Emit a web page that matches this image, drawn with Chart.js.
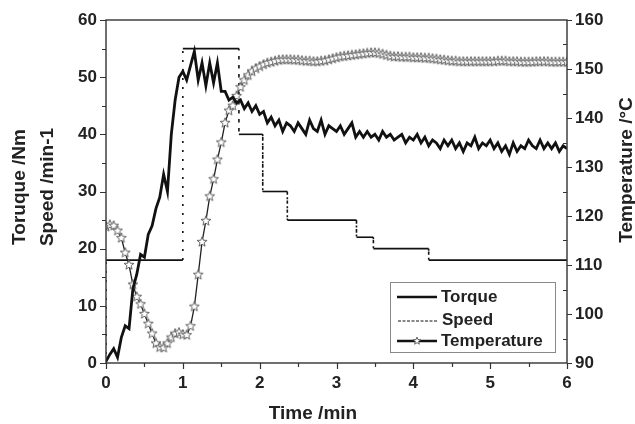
<!DOCTYPE html>
<html>
<head>
<meta charset="utf-8">
<script src="https://cdn.jsdelivr.net/npm/chart.js@4/dist/chart.umd.min.js"></script>
<style>
  html, body { margin: 0; padding: 0; background: #fff; }
</style>
</head>
<body>
<canvas id="chart" width="635" height="424"></canvas>
<script>
// thời gian (min), lấy mẫu 0.05 min
const times = [
  0, 0.05, 0.1, 0.15, 0.2, 0.25, 0.3, 0.35, 0.4, 0.45,
  0.5, 0.55, 0.6, 0.65, 0.7, 0.75, 0.8, 0.85, 0.9, 0.95,
  1.0, 1.05, 1.1, 1.15, 1.2, 1.25, 1.3, 1.35, 1.4, 1.45,
  1.5, 1.55, 1.6, 1.65, 1.7, 1.75, 1.8, 1.85, 1.9, 1.95,
  2.0, 2.05, 2.1, 2.15, 2.2, 2.25, 2.3, 2.35, 2.4, 2.45,
  2.5, 2.55, 2.6, 2.65, 2.7, 2.75, 2.8, 2.85, 2.9, 2.95,
  3.0, 3.05, 3.1, 3.15, 3.2, 3.25, 3.3, 3.35, 3.4, 3.45,
  3.5, 3.55, 3.6, 3.65, 3.7, 3.75, 3.8, 3.85, 3.9, 3.95,
  4.0, 4.05, 4.1, 4.15, 4.2, 4.25, 4.3, 4.35, 4.4, 4.45,
  4.5, 4.55, 4.6, 4.65, 4.7, 4.75, 4.8, 4.85, 4.9, 4.95,
  5.0, 5.05, 5.1, 5.15, 5.2, 5.25, 5.3, 5.35, 5.4, 5.45,
  5.5, 5.55, 5.6, 5.65, 5.7, 5.75, 5.8, 5.85, 5.9, 5.95,
  6.0
];

// Torque (Nm)
const torque = [
  0.3, 1.5, 2.5, 1.0, 4.5, 6.5, 6.0, 13, 15.5, 19,
  18.5, 22.5, 24, 27, 29, 33, 30, 40, 46, 50,
  51, 49.5, 52, 54.5, 49.5, 52.5, 48.5, 52.5, 49, 52.5,
  47.5, 47.5, 46, 46.5, 45.5, 46, 44.5, 45.5, 44, 45,
  43.5, 44, 42, 43, 41.5, 42.5, 40.5, 42, 41.5, 40.5,
  42, 41, 40, 42.5, 41, 40.5, 42.5, 40, 41.5, 41,
  40.5, 41.5, 40, 41, 42, 39.5, 40.5, 39.5, 40.5, 39.5,
  40, 39, 40.5, 39.5, 40, 39, 39.5, 40, 38.5, 39.5,
  39, 40, 38.5, 39.5, 38, 39, 38.5, 37.5, 39, 38,
  39, 37.5, 38.5, 37, 38.5, 38, 39.5, 37.5, 38.5, 38,
  39, 37.5, 38.5, 37, 38, 36.5, 38.5, 37, 38, 37.5,
  39, 38, 37.5, 39, 37.5, 38.5, 37.5, 38.5, 37, 38,
  37.5
];

// Temperature (°C)
const temperature = [
  117.8, 118.2, 118, 117, 115.5, 112.5, 110, 106, 103.5, 102,
  100, 98, 96, 94, 93.2, 93.1, 94, 95.2, 96, 96.2,
  95.8, 95.7, 97.5, 101.5, 108, 114.7, 119, 124, 127.5, 131.5,
  135, 139, 141.5, 142.5, 144.5, 146.3, 147.7, 148.7, 149.5, 150.1,
  150.5, 150.9, 151.2, 151.4, 151.6, 151.8, 151.9, 151.9, 151.9, 151.8,
  151.8, 151.7, 151.6, 151.6, 151.5, 151.5, 151.6, 151.7, 151.9, 152.1,
  152.3, 152.5, 152.6, 152.7, 152.8, 152.9, 153.0, 153.1, 153.2, 153.3,
  153.3, 153.2, 153.0, 152.8, 152.6, 152.5, 152.5, 152.4, 152.4, 152.4,
  152.3, 152.3, 152.3, 152.2, 152.2, 152.1, 152.0, 151.9, 151.8, 151.7,
  151.6, 151.6, 151.5, 151.5, 151.5, 151.5, 151.5, 151.5, 151.5, 151.5,
  151.5, 151.5, 151.6, 151.6, 151.6, 151.5, 151.5, 151.5, 151.4, 151.4,
  151.4, 151.4, 151.5, 151.5, 151.5, 151.5, 151.4, 151.4, 151.4, 151.4,
  151.4
];

// Speed (min-1), dạng bậc thang
const speedTimes  = [0, 0, 1.0, 1.0, 1.73, 1.73, 2.04, 2.04, 2.36, 2.36, 3.26, 3.26, 3.48, 3.48, 4.2, 4.2, 6.0];
const speedValues = [0, 18, 18, 55, 55, 40, 40, 30, 30, 25, 25, 22, 22, 20, 20, 18, 18];

// tick labels
const xTicks = [0, 1, 2, 3, 4, 5, 6];
const yLeftTicks = [0, 10, 20, 30, 40, 50, 60];
const yRightTicks = [90, 100, 110, 120, 130, 140, 150, 160];

const FONT = '"Liberation Sans", Arial, sans-serif';

// ký hiệu ngôi sao rỗng cho Temperature
function makeStar(size, outerR, innerR) {
  const c = document.createElement('canvas');
  c.width = size; c.height = size;
  const g = c.getContext('2d');
  const cx = size / 2, cy = size / 2;
  g.beginPath();
  for (let i = 0; i < 10; i++) {
    const r = i % 2 === 0 ? outerR : innerR;
    const a = -Math.PI / 2 + i * Math.PI / 5;
    const px = cx + r * Math.cos(a), py = cy + r * Math.sin(a);
    if (i === 0) g.moveTo(px, py); else g.lineTo(px, py);
  }
  g.closePath();
  g.fillStyle = '#fff';
  g.fill();
  g.strokeStyle = '#555';
  g.lineWidth = 0.9;
  g.stroke();
  return c;
}
const star = makeStar(12, 5.2, 2.2);
const smallStar = makeStar(10, 4, 1.7);

const framePlugin = {
  id: 'frame',
  afterDraw(chart) {
    const ctx = chart.ctx;
    const a = chart.chartArea;
    const sx = chart.scales.x, sy = chart.scales.y, sy2 = chart.scales.y2;
    ctx.save();
    ctx.strokeStyle = '#333';
    ctx.lineWidth = 1.4;
    ctx.strokeRect(a.left, a.top, a.right - a.left, a.bottom - a.top);

    ctx.lineWidth = 1.2;
    ctx.beginPath();
    // trục x
    for (let v = 0; v <= 6.001; v += 0.5) {
      const px = Math.round(sx.getPixelForValue(v)) + 0.5;
      const len = Math.abs(v - Math.round(v)) < 0.01 ? 6 : 4;
      ctx.moveTo(px, a.bottom); ctx.lineTo(px, a.bottom + len);
    }
    // trục trái
    for (let v = 0; v <= 60; v += 5) {
      const py = Math.round(sy.getPixelForValue(v)) + 0.5;
      const len = v % 10 === 0 ? 6 : 4;
      ctx.moveTo(a.left, py); ctx.lineTo(a.left - len, py);
    }
    // trục phải
    for (let v = 90; v <= 160; v += 5) {
      const py = Math.round(sy2.getPixelForValue(v)) + 0.5;
      if (v % 10 === 0) { ctx.moveTo(a.right, py); ctx.lineTo(a.right + 5, py); }
      else { ctx.moveTo(a.right, py); ctx.lineTo(a.right - 4, py); }
    }
    ctx.stroke();

    // tiêu đề trục
    ctx.fillStyle = '#222';
    ctx.font = 'bold 19px ' + FONT;
    ctx.textAlign = 'center';
    ctx.textBaseline = 'middle';
    ctx.fillText('Time /min', 313, 414);

    ctx.save();
    ctx.translate(20, 187);
    ctx.rotate(-Math.PI / 2);
    ctx.fillText('Toruque /Nm', 0, 0);
    ctx.restore();

    ctx.save();
    ctx.translate(48, 187);
    ctx.rotate(-Math.PI / 2);
    ctx.fillText('Speed /min-1', 0, 0);
    ctx.restore();

    ctx.save();
    ctx.translate(627, 170);
    ctx.rotate(-Math.PI / 2);
    ctx.fillText('Temperature /°C', 0, 0);
    ctx.restore();

    // chú thích
    ctx.fillStyle = '#fff';
    ctx.fillRect(390, 282, 165, 70);
    ctx.strokeStyle = '#888';
    ctx.lineWidth = 1;
    ctx.strokeRect(390.5, 282.5, 165, 70);

    ctx.strokeStyle = '#111';
    ctx.lineWidth = 2.5;
    ctx.beginPath(); ctx.moveTo(397, 297); ctx.lineTo(437, 297); ctx.stroke();

    ctx.lineWidth = 1;
    ctx.setLineDash([3, 1.5]);
    ctx.beginPath(); ctx.moveTo(398, 321); ctx.lineTo(437, 321); ctx.stroke();
    ctx.setLineDash([]);

    ctx.lineWidth = 2.5;
    ctx.beginPath(); ctx.moveTo(397, 341); ctx.lineTo(437, 341); ctx.stroke();
    ctx.drawImage(smallStar, 417 - 5, 341 - 5);

    ctx.fillStyle = '#222';
    ctx.font = 'bold 17px ' + FONT;
    ctx.textAlign = 'left';
    ctx.fillText('Torque', 441, 297);
    ctx.fillText('Speed', 442, 320);
    ctx.fillText('Temperature', 441, 341);
    ctx.restore();
  }
};

const tickFont = { family: FONT, size: 17, weight: 'bold' };

new Chart(document.getElementById('chart').getContext('2d'), {
  type: 'line',
  data: {
    datasets: [
      {
        label: 'Torque',
        data: times.map((t, i) => ({ x: t, y: torque[i] })),
        yAxisID: 'y',
        borderColor: '#111',
        borderWidth: 2.8,
        pointRadius: 0,
        tension: 0,
        order: 0
      },
      {
        label: 'Temperature',
        data: times.map((t, i) => ({ x: t, y: temperature[i] })),
        yAxisID: 'y2',
        borderColor: '#222',
        borderWidth: 1.3,
        pointStyle: star,
        pointRadius: 5,
        tension: 0,
        order: 1
      },
      {
        label: 'Speed',
        data: speedTimes.map((t, i) => ({ x: t, y: speedValues[i] })),
        yAxisID: 'y',
        borderColor: '#111',
        borderWidth: 1.6,
        pointRadius: 0,
        tension: 0,
        order: 2,
        segment: {
          borderDash: c => c.p0.parsed.x === c.p1.parsed.x ? [2, 7] : undefined
        }
      }
    ]
  },
  options: {
    responsive: false,
    animation: false,
    layout: { padding: { top: 20, left: 0, right: 0, bottom: 0 } },
    plugins: {
      legend: { display: false },
      tooltip: { enabled: false }
    },
    scales: {
      x: {
        type: 'linear',
        min: 0, max: 6,
        afterBuildTicks: s => { s.ticks = xTicks.map(v => ({ value: v })); },
        afterFit: s => { s.height = 61; },
        grid: { display: false, drawTicks: false },
        border: { display: false },
        ticks: { font: tickFont, color: '#222', padding: 10, maxRotation: 0 }
      },
      y: {
        position: 'left',
        min: 0, max: 60,
        afterBuildTicks: s => { s.ticks = yLeftTicks.map(v => ({ value: v })); },
        afterFit: s => { s.width = 106; },
        grid: { display: false, drawTicks: false },
        border: { display: false },
        ticks: { font: tickFont, color: '#222', padding: 9 }
      },
      y2: {
        position: 'right',
        min: 90, max: 160,
        afterBuildTicks: s => { s.ticks = yRightTicks.map(v => ({ value: v })); },
        afterFit: s => { s.width = 68; },
        grid: { display: false, drawTicks: false },
        border: { display: false },
        ticks: { font: tickFont, color: '#222', padding: 8 }
      }
    }
  },
  plugins: [framePlugin]
});
</script>
</body>
</html>
